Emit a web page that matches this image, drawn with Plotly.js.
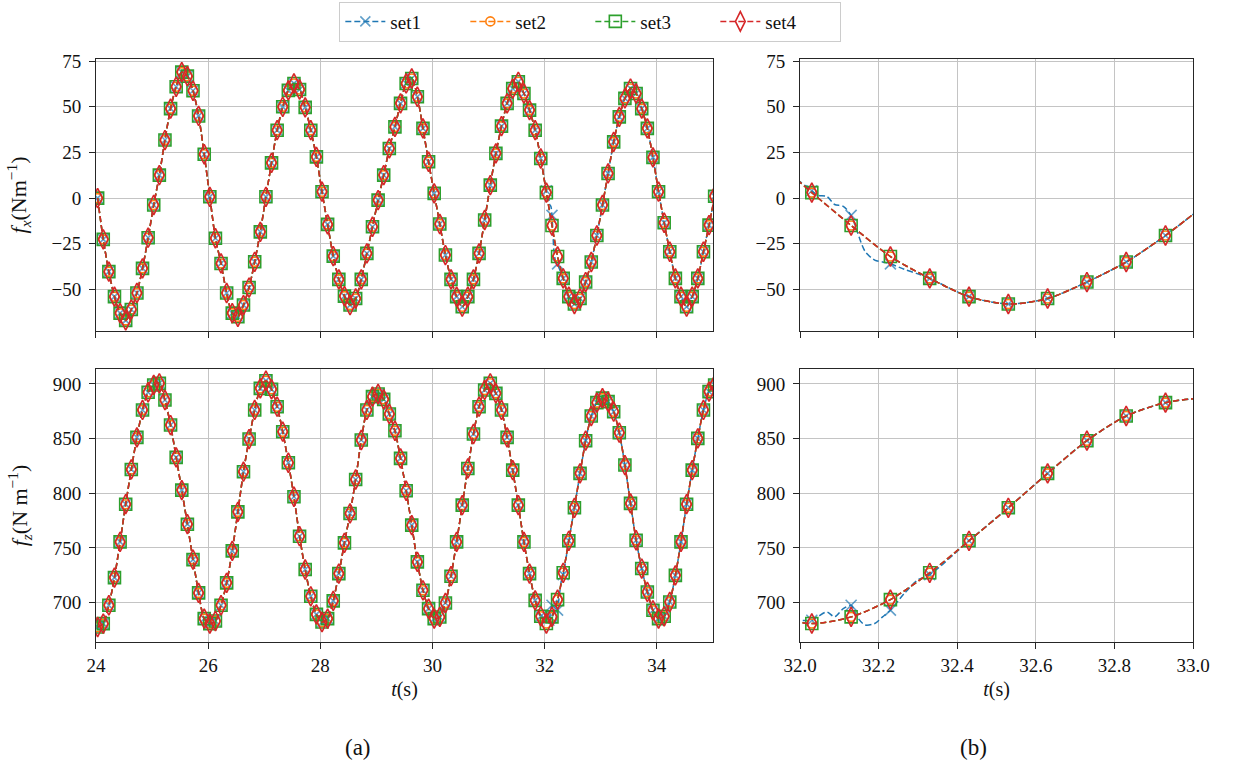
<!DOCTYPE html>
<html>
<head>
<meta charset="utf-8">
<script src="https://cdn.plot.ly/plotly-3.0.1.min.js"></script>
<style>html,body{margin:0;padding:0;background:#fff;}#chart{width:1235px;height:763px;}</style>
</head>
<body>
<div id="chart"></div>
<script>
// sample times of the plotted points (s)
const t = [24.03,24.13,24.23,24.33,24.43,24.53,24.63,24.73,24.83,24.93,
25.03,25.13,25.23,25.33,25.43,25.53,25.63,25.73,25.83,25.93,
26.03,26.13,26.23,26.33,26.43,26.53,26.63,26.73,26.83,26.93,
27.03,27.13,27.23,27.33,27.43,27.53,27.63,27.73,27.83,27.93,
28.03,28.13,28.23,28.33,28.43,28.53,28.63,28.73,28.83,28.93,
29.03,29.13,29.23,29.33,29.43,29.53,29.63,29.73,29.83,29.93,
30.03,30.13,30.23,30.33,30.43,30.53,30.63,30.73,30.83,30.93,
31.03,31.13,31.23,31.33,31.43,31.53,31.63,31.73,31.83,31.93,
32.03,32.13,32.23,32.33,32.43,32.53,32.63,32.73,32.83,32.93,
33.03,33.13,33.23,33.33,33.43,33.53,33.63,33.73,33.83,33.93,
34.03,34.13,34.23,34.33,34.43,34.53,34.63,34.73,34.83,34.93,35.03];

// f_x (N m^-1), shared by set2, set3, set4 (and set1 outside its deviation window)
const fx = [0,-22.6,-40.3,-54,-63,-67,-61,-52,-38.5,-21.7,
-3.8,12.6,31.8,49,61,69,66.8,58.8,45,24,
0.7,-22,-35.8,-52,-63,-65,-58.6,-49,-34.9,-18.5,
0.7,19.3,37.2,50,59,62.8,59.5,49.7,37.2,22.6,
3.5,-14.4,-31.8,-44.5,-53.7,-58.6,-55,-44.5,-30.3,-15.7,
-1.1,12.6,27.2,39,51.9,62.8,65.5,55.5,38.2,19.9,
2.6,-14.2,-31.2,-44.5,-54,-59.5,-54,-44.5,-30.3,-12,
7.1,24.5,39.4,51.9,60,63.7,57.3,48.2,37.2,21.7,
3,-15,-32,-44,-54,-58,-55,-46,-35,-20.5,
-3.8,13.5,30.8,44.5,54.6,60,57.3,49,38.2,22.3,
3.5,-13.5,-29.4,-44,-54,-59.5,-54,-44,-29.4,-14.8,1];

// f_z (N m^-1)
const fz = [677.6,680.7,697.5,722.8,755.5,790,821.8,851.1,876.2,892.4,
899.1,900.6,885.3,862.4,832.8,802.9,771.7,739.3,708.8,685.3,
680.7,683.1,697.5,718,747.3,783,819.7,849.6,876.2,896,
903,895.1,879.2,856.3,827.9,796.8,760.7,730.2,705.7,689.2,
682.2,685.3,701.5,726.5,754.6,781.5,812.6,848.7,876.2,888.4,
890.8,885.9,872.5,857.2,831.9,802.3,770.8,737.2,711.2,694.4,
685.3,686.8,699.6,724.1,755.5,789.1,822.7,854.2,879.2,894.5,
900.6,891.4,876.2,851.1,821.2,789.1,755.5,726.5,702,687.4,
680.8,686.9,702.7,727.2,756.5,786.7,818.2,848.1,870.7,882.9,
887,883.8,874.6,855.4,825.8,790.7,757,731.1,709.7,692.9,
685.3,687.4,700.5,724.9,755.5,790,821.2,850.2,876.2,893,899];

// set1 deviates between 32.0 s and 32.33 s (denser samples; 1 = marked sample)
const s1T    = [32.00,32.03,32.045,32.068,32.088,32.11,32.13,32.145,32.165,32.19,32.21,32.23,32.265,32.30,32.33];
const s1Fx   = [9,4,1.5,0.9,-3.5,-4.5,-9.5,-18,-29,-34,-35,-36,-39,-41.5,-44];
const s1Fz   = [683.8,683.8,687,691.4,687,694.4,697.5,687,679.5,680.8,686.9,693,708.2,720.8,725.5];
const s1Mark = [0,1,0,0,0,0,1,0,0,0,0,1,0,0,1];

const setNames = ['set1','set2','set3','set4'];
const setColors = ['#1f77b4','#ff7f0e','#2ca02c','#d62728'];
const setSymbols = ['x-thin-open','circle-open','square-open','diamond-tall-open'];
const setSizes = [11,9,12,14];

function buildSet1(base, dev) {
  const x = [], y = [], s = [];
  const lo = s1T[0] - 0.02, hi = s1T[s1T.length-1] + 0.005;
  let inserted = false;
  for (let i = 0; i < t.length; i++) {
    if (t[i] >= lo && t[i] <= hi) {
      if (!inserted) {
        for (let j = 0; j < s1T.length; j++) { x.push(s1T[j]); y.push(dev[j]); s.push(s1Mark[j] ? setSizes[0] : 0); }
        inserted = true;
      }
      continue;
    }
    x.push(t[i]); y.push(base[i]); s.push(setSizes[0]);
  }
  return {x, y, s};
}

const panels = [
  {xa:'x',  ya:'y',  base: fx, dev: s1Fx, legend: true},
  {xa:'x2', ya:'y2', base: fx, dev: s1Fx, legend: false},
  {xa:'x3', ya:'y3', base: fz, dev: s1Fz, legend: false},
  {xa:'x4', ya:'y4', base: fz, dev: s1Fz, legend: false}
];

const traces = [];
panels.forEach(p => {
  for (let k = 0; k < 4; k++) {
    let xs, ys, sz;
    if (k === 0) { const b = buildSet1(p.base, p.dev); xs = b.x; ys = b.y; sz = b.s; }
    else { xs = t; ys = p.base; sz = setSizes[k]; }
    traces.push({
      type: 'scatter', mode: 'lines+markers', x: xs, y: ys,
      xaxis: p.xa, yaxis: p.ya, name: setNames[k], legendgroup: setNames[k],
      showlegend: p.legend,
      line: {color: setColors[k], width: 1.5, dash: '6px,3px', shape: 'spline', smoothing: 0.8},
      marker: {symbol: setSymbols[k], size: sz, color: setColors[k],
               line: {color: setColors[k], width: 1.6}}
    });
  }
});

const FONT = 'Liberation Serif';
const TXT = '#111111';
const axBase = {
  showgrid: true, gridcolor: '#c4c4c4', gridwidth: 1,
  showline: true, linecolor: '#262626', linewidth: 1, mirror: true,
  ticks: 'outside', ticklen: 6, tickcolor: '#262626', tickwidth: 1,
  zeroline: false, automargin: false,
  tickfont: {family: FONT, size: 19, color: TXT}
};
const yExtra = {ticklabelstandoff: 4};
const xL = [0.0777, 0.5773], xR = [0.6478, 0.966];
const yT = [0.5662, 0.9227], yB = [0.1586, 0.5164];
const fxRange = [-72.8, 76.2], fzRange = [663.9, 913.7];
const xTitle = {text: '<i>t</i>(s)', font: {family: FONT, size: 20, color: TXT}, standoff: 7};

const layout = {
  width: 1235, height: 763,
  margin: {l: 0, r: 0, t: 0, b: 0},
  paper_bgcolor: '#fff', plot_bgcolor: '#fff',
  font: {family: FONT, size: 19, color: TXT},
  showlegend: true,
  legend: {orientation: 'h', x: 0.478, xanchor: 'center', y: 0.998, yanchor: 'top',
           bordercolor: '#cccccc', borderwidth: 1, bgcolor: '#fff',
           font: {family: FONT, size: 19, color: TXT},
           entrywidth: 70, entrywidthmode: 'pixels', itemwidth: 40, traceorder: 'normal'},
  xaxis:  Object.assign({}, axBase, {domain: xL, anchor: 'y',  range: [24, 35], dtick: 2, tick0: 24, showticklabels: false}),
  yaxis:  Object.assign({}, axBase, yExtra, {domain: yT, anchor: 'x',  range: fxRange, dtick: 25, tick0: 0,
            title: {text: '<i>f</i><sub><i>x</i></sub>(Nm<sup>−1</sup>)', font: {family: FONT, size: 22, color: TXT}, standoff: 18}}),
  xaxis2: Object.assign({}, axBase, {domain: xR, anchor: 'y2', range: [32, 33], dtick: 0.2, tick0: 32, showticklabels: false}),
  yaxis2: Object.assign({}, axBase, yExtra, {domain: yT, anchor: 'x2', range: fxRange, dtick: 25, tick0: 0}),
  xaxis3: Object.assign({}, axBase, {domain: xL, anchor: 'y3', range: [24, 35], dtick: 2, tick0: 24, title: xTitle}),
  yaxis3: Object.assign({}, axBase, yExtra, {domain: yB, anchor: 'x3', range: fzRange, dtick: 50, tick0: 700,
            title: {text: '<i>f</i><sub><i>z</i></sub>(N m<sup>−1</sup>)', font: {family: FONT, size: 22, color: TXT}, standoff: 18}}),
  xaxis4: Object.assign({}, axBase, {domain: xR, anchor: 'y4', range: [32, 33], dtick: 0.2, tick0: 32, tickformat: '.1f', title: xTitle}),
  yaxis4: Object.assign({}, axBase, yExtra, {domain: yB, anchor: 'x4', range: fzRange, dtick: 50, tick0: 700}),
  annotations: [
    {text: '(a)', xref: 'paper', yref: 'paper', x: 358/1235, y: 1 - 747/763, xanchor: 'center', yanchor: 'middle', showarrow: false, font: {family: FONT, size: 23, color: TXT}},
    {text: '(b)', xref: 'paper', yref: 'paper', x: 973/1235, y: 1 - 747/763, xanchor: 'center', yanchor: 'middle', showarrow: false, font: {family: FONT, size: 23, color: TXT}}
  ]
};

Plotly.newPlot('chart', traces, layout, {displayModeBar: false, staticPlot: true});
</script>
</body>
</html>
